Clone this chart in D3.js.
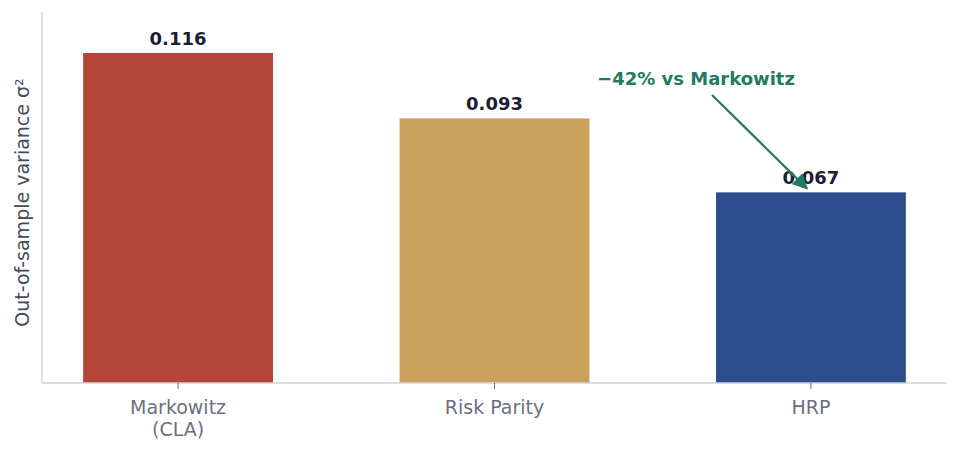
<!DOCTYPE html>
<html><head><meta charset="utf-8">
<script src="https://cdn.jsdelivr.net/npm/d3@7"></script>
<style>body{margin:0;background:#fff;font-family:"DejaVu Sans",sans-serif}</style>
</head><body><div id="chart"></div>
<script>
const categories = [["Markowitz", "(CLA)"], ["Risk Parity"], ["HRP"]];
const variances = [0.116, 0.093, 0.067];
const colors = ["#b34639", "#c9a15a", "#2c4e8c"];
const annotationText = "\u221242% vs Markowitz";

const width = 960, height = 455;
const plotLeft = 42, plotRight = 947, plotTop = 12, plotBottom = 383;

const svg = d3.select("#chart").append("svg").attr("width", width).attr("height", height);

// index-based x so bars sit where the reference has them
const x = d3.scaleLinear().domain([-0.43, 2.43]).range([plotLeft, plotRight]);
const y = d3.scaleLinear().domain([0, 0.1304]).range([plotBottom, plotTop]);
const barW = x(0.3) - x(-0.3);

svg.selectAll("rect.bar").data(variances).join("rect")
  .attr("x", (d, i) => x(i) - barW / 2)
  .attr("y", d => y(d))
  .attr("width", barW)
  .attr("height", d => y(0) - y(d))
  .attr("fill", (d, i) => colors[i]);

svg.selectAll("text.val").data(variances).join("text")
  .attr("x", (d, i) => x(i)).attr("y", d => y(d) - 8)
  .attr("text-anchor", "middle").attr("font-size", "18px").attr("font-weight", "bold")
  .attr("fill", "#1c1c35").text(d => d.toFixed(3));

// axes
svg.append("line").attr("x1", plotLeft).attr("x2", plotLeft).attr("y1", plotTop).attr("y2", plotBottom).attr("stroke", "#cfd2dc").attr("stroke-width", 1.3);
svg.append("line").attr("x1", plotLeft).attr("x2", plotRight).attr("y1", plotBottom).attr("y2", plotBottom).attr("stroke", "#cfd2dc").attr("stroke-width", 1.3);

categories.forEach((c, i) => {
  svg.append("line").attr("x1", x(i)).attr("x2", x(i)).attr("y1", plotBottom).attr("y2", plotBottom + 6).attr("stroke", "#6b7080");
  const t = svg.append("text").attr("text-anchor", "middle").attr("font-size", "19px").attr("fill", "#6b7080");
  c.forEach((line, j) => t.append("tspan").attr("x", x(i)).attr("y", 414 + j * 22).text(line));
});

svg.append("text").attr("transform", `translate(29,${(plotTop + plotBottom) / 2 + 5}) rotate(-90)`)
  .attr("text-anchor", "middle").attr("font-size", "19px").attr("fill", "#454b58")
  .text("Out-of-sample variance \u03c3\u00b2");

// annotation
const green = "#237a60";
svg.append("defs").append("marker").attr("id", "arr").attr("viewBox", "0 0 10 10")
  .attr("refX", 9).attr("refY", 5).attr("markerWidth", 7).attr("markerHeight", 7).attr("orient", "auto")
  .append("path").attr("d", "M0,0 L10,5 L0,10 z").attr("fill", green);
svg.append("text").attr("x", 696).attr("y", 85).attr("text-anchor", "middle")
  .attr("font-size", "18px").attr("font-weight", "bold").attr("fill", green).text(annotationText);
svg.append("line").attr("x1", 712).attr("y1", 95).attr("x2", x(2) - 4).attr("y2", y(variances[2]) - 4)
  .attr("stroke", green).attr("stroke-width", 2.2).attr("marker-end", "url(#arr)");
</script></body></html>
